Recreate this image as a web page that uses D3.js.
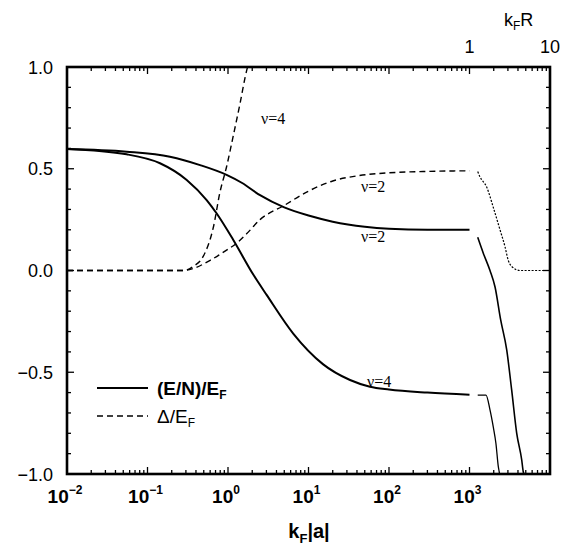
<!DOCTYPE html>
<html><head><meta charset="utf-8">
<script src="https://cdn.jsdelivr.net/npm/d3@7"></script>
<style>body{margin:0;background:#fff}svg{display:block}</style>
</head><body>
<svg id="chart" width="569" height="546"></svg>
<script>
// ---- data ----
const yTicks = [-1.0, -0.5, 0.0, 0.5, 1.0];
const yTickLabels = ["\u22121.0", "\u22120.5", "0.0", "0.5", "1.0"];
const xExponents = [-2, -1, 0, 1, 2, 3];
const topTickValues = [1, 10];
const topTickLabels = ["1", "10"];

// left region: k_F|a|
const e2X = [0.01, 0.055, 0.19, 0.45, 0.96, 1.5, 2.5, 5, 10, 20, 50, 100, 300, 1000];
const e2Y = [0.597, 0.584, 0.559, 0.518, 0.47, 0.43, 0.37, 0.31, 0.27, 0.24, 0.215, 0.205, 0.2, 0.2];
const e4X = [0.01, 0.055, 0.143, 0.307, 0.543, 0.724, 1.164, 2.06, 3.02, 6.46, 15.1, 32.8, 58, 100, 300, 1000];
const e4Y = [0.597, 0.571, 0.527, 0.445, 0.346, 0.28, 0.15, -0.02, -0.12, -0.31, -0.46, -0.538, -0.571, -0.585, -0.6, -0.61];
const d2X = [0.01, 0.28, 0.37, 0.6, 0.96, 1.28, 1.7, 2.5, 5, 10, 20, 40, 100, 300, 1000];
const d2Y = [0, 0, 0.01, 0.05, 0.10, 0.134, 0.18, 0.25, 0.32, 0.39, 0.44, 0.465, 0.48, 0.487, 0.49];
const d4X = [0.01, 0.28, 0.37, 0.49, 0.66, 0.79, 0.96, 1.16, 1.41, 1.71, 1.75];
const d4Y = [0, 0, 0.02, 0.068, 0.215, 0.38, 0.51, 0.66, 0.82, 0.985, 1.0];

// right region: k_F R
const dRX = [1.265, 1.35, 1.635, 1.975, 2.393, 2.76, 3.03, 3.34, 4.24, 10];
const dRY = [0.486, 0.46, 0.41, 0.31, 0.2, 0.117, 0.05, 0.02, 0.0, 0.0];
const e2RX = [1.265, 1.484, 1.797, 2.073, 2.44, 2.9, 3.34, 3.86, 4.45, 4.66, 4.75];
const e2RY = [0.163, 0.085, 0.0, -0.08, -0.243, -0.39, -0.587, -0.80, -0.93, -0.99, -1.0];
const e4RX = [1.265, 1.604, 1.797, 1.976, 2.13, 2.28, 2.34, 2.36];
const e4RY = [-0.612, -0.612, -0.685, -0.77, -0.85, -0.964, -0.99, -1.0];

// ---- layout ----
const L = 67, R = 550, T = 67, B = 474;
const svg = d3.select("#chart");
const x = d3.scaleLog().domain([1e-2, 1e4]).range([L, R]);
const xR = d3.scaleLog().domain([1e-5, 10]).range([L, R]);
const y = d3.scaleLinear().domain([-1, 1]).range([B, T]);

svg.append("defs").append("clipPath").attr("id", "clip")
  .append("rect").attr("x", L).attr("y", T).attr("width", R - L).attr("height", B - T);

const plot = svg.append("g").attr("clip-path", "url(#clip)");
function curve(xs, ys, sc, w, dash) {
  const pts = xs.map((v, i) => [sc(v), y(ys[i])]);
  plot.append("path").attr("d", d3.line().curve(d3.curveMonotoneX)(pts))
    .attr("fill", "none").attr("stroke", "#000").attr("stroke-width", w)
    .attr("stroke-dasharray", dash || null);
}
curve(e2X, e2Y, x, 2);
curve(e4X, e4Y, x, 2);
curve(d2X, d2Y, x, 1.4, "6,4");
curve(d4X, d4Y, x, 1.4, "6,4");
curve(dRX, dRY, xR, 1.2, "2,1.5");
curve(e2RX, e2RY, xR, 1.6);
curve(e4RX, e4RY, xR, 1.3);

// ---- ticks ----
const minorX = [];
for (let e = -2; e < 4; e++) for (let m = 2; m <= 9; m++) minorX.push(m * Math.pow(10, e));
const majorX = d3.range(-2, 5).map(e => Math.pow(10, e));
const ax = svg.append("g").attr("stroke", "#000").attr("stroke-width", 1.3);
majorX.forEach(v => {
  ax.append("line").attr("x1", x(v)).attr("x2", x(v)).attr("y1", B).attr("y2", B - 7);
  ax.append("line").attr("x1", x(v)).attr("x2", x(v)).attr("y1", T).attr("y2", T + 7);
});
minorX.forEach(v => {
  ax.append("line").attr("x1", x(v)).attr("x2", x(v)).attr("y1", B).attr("y2", B - 4);
  ax.append("line").attr("x1", x(v)).attr("x2", x(v)).attr("y1", T).attr("y2", T + 4);
});
d3.range(-10, 11).forEach(i => {
  const v = i / 10, major = (i % 5 === 0), len = major ? 7 : 4;
  ax.append("line").attr("x1", L).attr("x2", L + len).attr("y1", y(v)).attr("y2", y(v));
  ax.append("line").attr("x1", R).attr("x2", R - len).attr("y1", y(v)).attr("y2", y(v));
});
svg.append("rect").attr("x", L).attr("y", T).attr("width", R - L).attr("height", B - T)
  .attr("fill", "none").attr("stroke", "#000").attr("stroke-width", 2.6);

// ---- labels ----
const sans = "Liberation Sans, Arial, Helvetica, sans-serif";
yTicks.forEach((v, i) => {
  svg.append("text").attr("x", 53).attr("y", y(v) + 6.5).attr("text-anchor", "end")
    .attr("font-family", sans).attr("font-size", 18).text(yTickLabels[i]);
});
xExponents.forEach(e => {
  const t = svg.append("text").attr("x", x(Math.pow(10, e)) - 2).attr("y", 503)
    .attr("text-anchor", "middle").attr("font-family", sans).attr("font-weight", "bold").attr("font-size", 19);
  t.append("tspan").text("10");
  t.append("tspan").attr("dy", -9).attr("font-size", 12).text(e < 0 ? "\u2212" + (-e) : String(e));
});
topTickValues.forEach((v, i) => {
  svg.append("text").attr("x", xR(v)).attr("y", 53).attr("text-anchor", "middle")
    .attr("font-family", sans).attr("font-size", 18).text(topTickLabels[i]);
});
// top axis title
const tt = svg.append("text").attr("x", 504).attr("y", 26).attr("font-family", sans).attr("font-size", 18);
tt.append("tspan").text("k");
tt.append("tspan").attr("dy", 4).attr("font-size", 12).text("F");
tt.append("tspan").attr("dy", -4).text("R");
// bottom axis title
const bt = svg.append("text").attr("x", 309).attr("y", 538).attr("text-anchor", "middle")
  .attr("font-family", sans).attr("font-weight", "bold").attr("font-size", 20);
bt.append("tspan").text("k");
bt.append("tspan").attr("dy", 5).attr("font-size", 13).text("F");
bt.append("tspan").attr("dy", -5).text("|a|");

// curve labels
const serif = "Liberation Serif, Times New Roman, serif";
[["\u03bd=4", 261, 124], ["\u03bd=2", 361, 192], ["\u03bd=2", 361, 242], ["\u03bd=4", 367, 387]].forEach(d => {
  svg.append("text").attr("x", d[1]).attr("y", d[2]).attr("font-family", serif).attr("font-size", 16).text(d[0]);
});

// legend
svg.append("line").attr("x1", 97).attr("x2", 148).attr("y1", 388).attr("y2", 388)
  .attr("stroke", "#000").attr("stroke-width", 2);
svg.append("line").attr("x1", 97).attr("x2", 148).attr("y1", 416).attr("y2", 416)
  .attr("stroke", "#000").attr("stroke-width", 1.4).attr("stroke-dasharray", "6,4");
const l1 = svg.append("text").attr("x", 157).attr("y", 395).attr("font-family", sans)
  .attr("font-weight", "bold").attr("font-size", 19);
l1.append("tspan").text("(E/N)/E");
l1.append("tspan").attr("dy", 4).attr("font-size", 12).text("F");
const l2 = svg.append("text").attr("x", 157).attr("y", 423).attr("font-family", sans).attr("font-size", 19);
l2.append("tspan").text("\u0394/E");
l2.append("tspan").attr("dy", 4).attr("font-size", 12).text("F");
</script>
</body></html>
